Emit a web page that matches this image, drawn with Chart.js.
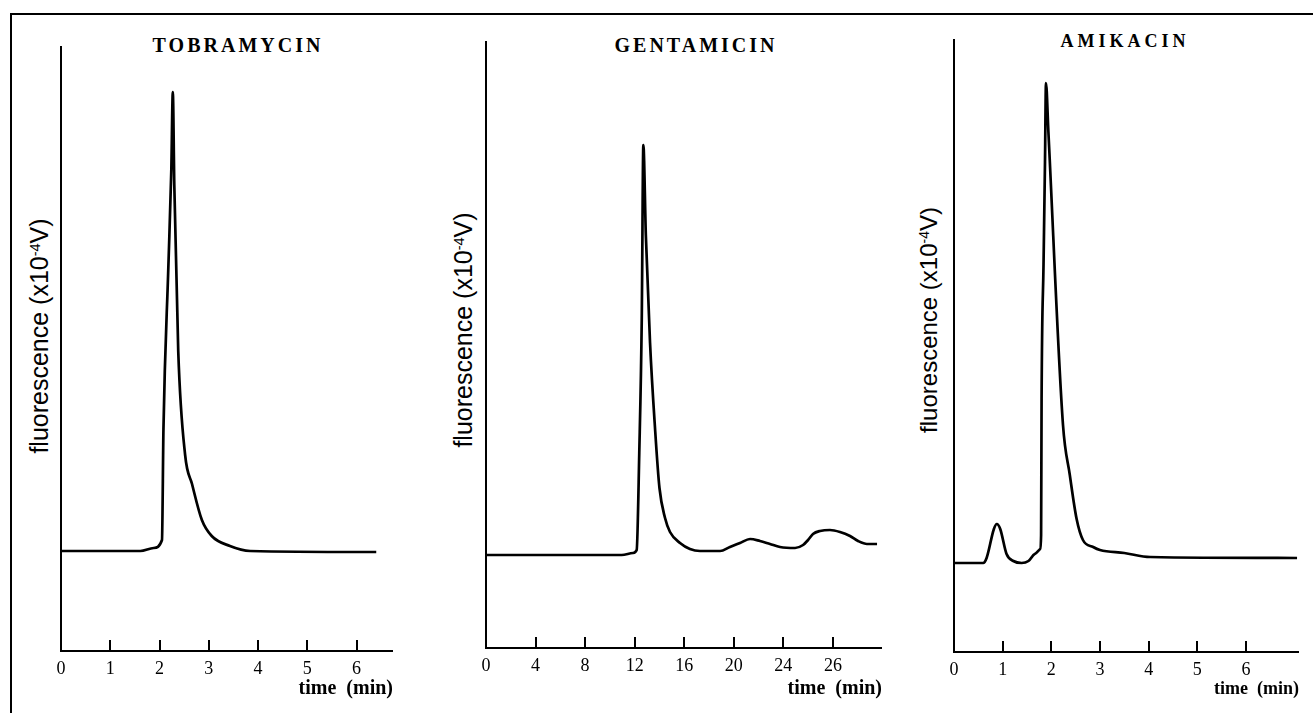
<!DOCTYPE html>
<html lang="en">
<head>
<meta charset="UTF-8">
<title>Aminoglycoside chromatograms</title>
<style>
    body {
        margin: 0;
        width: 1313px;
        height: 713px;
        overflow: hidden;
        position: relative;
        background: #fff;
    }
    .frame {
        position: absolute;
        left: 10px;
        top: 13px;
        width: 1303px;
        height: 700px;
        border-top: 2px solid #000;
        border-left: 2px solid #000;
        box-sizing: border-box;
    }
    canvas {
        position: absolute;
        top: 0;
    }
    .title {
        position: absolute;
        font: bold 20px "Liberation Serif", serif;
        letter-spacing: 3px;
        transform: translate(-50%, -50%);
        white-space: nowrap;
        color: #000;
    }
    .ylabel {
        position: absolute;
        font: 25px "Liberation Sans", sans-serif;
        line-height: 1;
        white-space: nowrap;
        color: #000;
        transform: translate(-50%, -50%) rotate(-90deg);
    }
    .ylabel sup {
        font-size: 0.58em;
        vertical-align: 0.55em;
        line-height: 0;
    }
</style>
</head>
<body>
<div class="frame"></div>
<div class="title" style="left:238px; top:45px;">TOBRAMYCIN</div>
<div class="title" style="left:696px; top:45px;">GENTAMICIN</div>
<div class="title" style="left:1125px; top:41px; font-size:18px; letter-spacing:4px;">AMIKACIN</div>

<div class="ylabel" style="left:39px; top:336px;">fluorescence (x10<sup>-4</sup>V)</div>
<div class="ylabel" style="left:463px; top:330px;">fluorescence (x10<sup>-4</sup>V)</div>
<div class="ylabel" style="left:929px; top:320px; font-size:24px;">fluorescence (x10<sup>-4</sup>V)</div>

<canvas id="tobra" width="381" height="713" style="left:12px;"></canvas>
<canvas id="genta" width="445" height="713" style="left:437px;"></canvas>
<canvas id="amika" width="394" height="713" style="left:905px;"></canvas>

<script src="https://cdn.jsdelivr.net/npm/chart.js"></script>
<script>
    // tobramycin trace (time in min, signal in arbitrary units)
    const tobraTime = [0, 1.61, 1.88, 2.05, 2.08, 2.18, 2.24, 2.27, 2.30, 2.38, 2.52, 2.66, 2.86, 3.06, 3.43, 3.84, 6.4];
    const tobraSignal = [100, 100, 103, 111, 222, 385, 482, 559, 466, 300, 196, 167, 131, 115, 105, 100, 99];
    const tobraTicks = [0, 1, 2, 3, 4, 5, 6];
    const tobraTickLabels = ['0', '1', '2', '3', '4', '5', '6'];

    // gentamicin trace
    const gentaTime = [0, 10.95, 11.86, 12.16, 12.37, 12.57, 12.70, 12.90, 13.24, 13.64, 14.0, 14.45, 14.85, 15.66, 16.46, 17.27, 18.89, 19.69, 20.5, 21.31, 22.11, 22.92, 23.73, 24.94, 25.59, 25.99, 26.39, 26.96, 27.76, 28.57, 29.38, 30.03, 30.75, 31.56];
    const gentaSignal = [93, 93, 95, 98, 195, 328, 503, 413, 305, 220, 160, 130, 116, 105, 99, 97, 97, 101, 105, 109, 107, 104, 101, 100, 103, 108, 114, 117, 118, 116, 112, 107, 104, 104];
    const gentaTicks = [0, 4, 8, 12, 16, 20, 24, 28];
    const gentaTickLabels = ['0', '4', '8', '12', '16', '20', '24', '26'];

    // amikacin trace
    const amikaTime = [0, 0.60, 0.67, 0.82, 0.88, 0.95, 1.08, 1.22, 1.39, 1.53, 1.66, 1.77, 1.79, 1.80, 1.84, 1.87, 1.89, 1.94, 2.24, 2.38, 2.52, 2.65, 2.86, 3.00, 3.5, 4.03, 7.05];
    const amikaSignal = [89, 89, 94, 123, 128, 123, 98, 91, 89, 91, 98, 103, 117, 253, 388, 490, 569, 520, 227, 177, 133, 112, 105, 102, 99, 95, 94];
    const amikaTicks = [0, 1, 2, 3, 4, 5, 6];
    const amikaTickLabels = ['0', '1', '2', '3', '4', '5', '6'];

    // tick marks point up into the plot, none at the origin
    const innerTicks = {
        id: 'innerTicks',
        afterDraw(chart) {
            const { ctx, chartArea } = chart;
            const x = chart.scales.x;
            ctx.save();
            ctx.strokeStyle = '#000';
            ctx.lineWidth = 2;
            x.ticks.forEach(t => {
                if (t.value === 0) return;
                const px = Math.round(x.getPixelForValue(t.value));
                ctx.beginPath();
                ctx.moveTo(px, chartArea.bottom);
                ctx.lineTo(px, chartArea.bottom - 11);
                ctx.stroke();
            });
            ctx.restore();
        }
    };

    function makeChart(id, time, signal, ticks, tickLabels, xMax, yMax, top, axisY, titleSize) {
        new Chart(document.getElementById(id), {
            type: 'line',
            data: {
                datasets: [{
                    data: time.map((t, i) => ({ x: t, y: signal[i] })),
                    borderColor: '#000',
                    borderWidth: 2.7,
                    pointRadius: 0,
                    cubicInterpolationMode: 'monotone',
                    fill: false
                }]
            },
            options: {
                responsive: false,
                animation: false,
                events: [],
                layout: { padding: { top: top, left: 0, right: 0, bottom: 0 } },
                plugins: {
                    legend: { display: false },
                    tooltip: { enabled: false }
                },
                scales: {
                    x: {
                        type: 'linear',
                        min: 0,
                        max: xMax,
                        afterBuildTicks: s => { s.ticks = ticks.map(v => ({ value: v })); },
                        afterFit: s => { s.height = 713 - axisY; },
                        grid: { display: false, drawTicks: false },
                        border: { display: true, color: '#000', width: 2 },
                        ticks: {
                            color: '#000',
                            font: { family: 'Liberation Serif', size: 18 },
                            padding: 7,
                            maxRotation: 0,
                            autoSkip: false,
                            callback: (v, i) => tickLabels[i]
                        },
                        title: {
                            display: true,
                            text: 'time  (min)',
                            align: 'end',
                            color: '#000',
                            font: { family: 'Liberation Serif', size: titleSize, weight: 'bold' },
                            padding: { top: 0, bottom: 24 - titleSize * 0.6 }
                        }
                    },
                    y: {
                        min: 0,
                        max: yMax,
                        afterFit: s => { s.width = 49; },
                        grid: { display: false },
                        border: { display: true, color: '#000', width: 2 },
                        ticks: { display: false }
                    }
                }
            },
            plugins: [innerTicks]
        });
    }

    makeChart('tobra', tobraTime, tobraSignal, tobraTicks, tobraTickLabels, 6.74, 604, 47, 651, 20);
    makeChart('genta', gentaTime, gentaSignal, gentaTicks, gentaTickLabels, 31.96, 606, 42, 648, 20);
    makeChart('amika', amikaTime, amikaSignal, amikaTicks, amikaTickLabels, 7.09, 612, 40, 652, 18);
</script>
</body>
</html>
